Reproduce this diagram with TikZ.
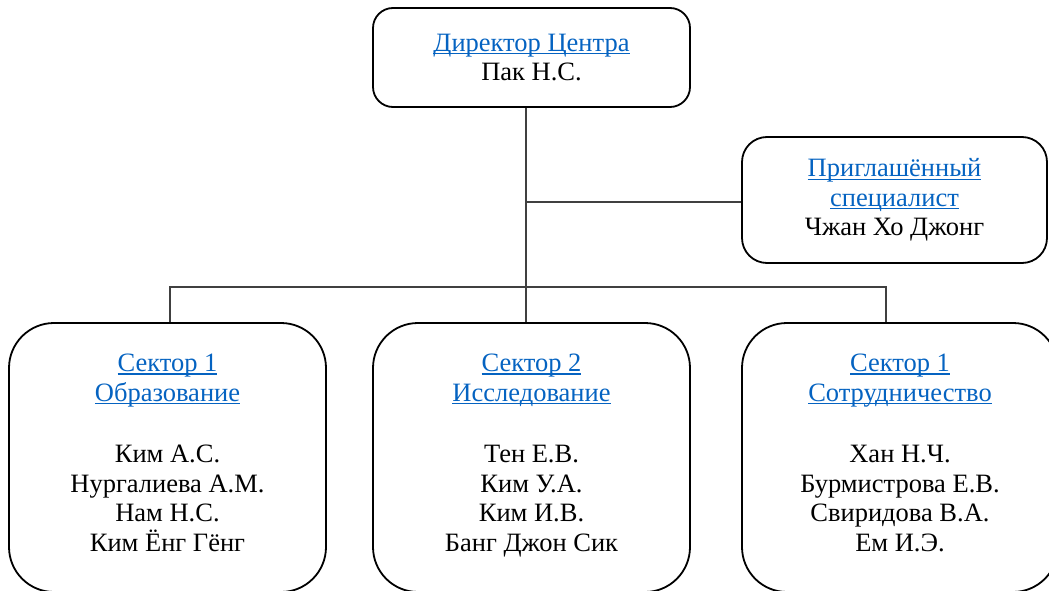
\documentclass[tikz,border=0pt]{standalone}
\usepackage{fontspec}
\setmainfont{Liberation Serif}
\newfontfamily\timesf{Liberation Serif}
\definecolor{linkblue}{RGB}{5,99,193}
\newcommand\lnk[1]{{\color{linkblue}\setbox0\hbox{#1}\rlap{\rule[-3pt]{\wd0}{1.2pt}}\box0}}
\newcommand\lift{\rule[-10pt]{0pt}{10pt}}

\begin{document}
\begin{tikzpicture}[x=1pt,y=-1pt,font=\timesf\fontsize{26.5}{29.5}\selectfont,
  box/.style={draw,line width=1.8pt,rounded corners=#1,align=center,inner sep=0pt},
  wire/.style={draw=black!75,line width=1.4pt}]
\useasboundingbox (0,0) rectangle (1049,591);
\node[box=20pt,minimum width=317pt,minimum height=99pt] (dir) at (531.5,57.5) {\lnk{Директор Центра}\\Пак Н.С.};
\node[box=25pt,minimum width=305pt,minimum height=126pt] (guest) at (894.5,200) {\lnk{Приглашённый}\\\lnk{специалист}\\Чжан Хо Джонг};
\node[box=45pt,minimum width=317pt,minimum height=269pt] (s1) at (167.5,457.5) {\lnk{Сектор 1}\\\lnk{Образование}\\[32pt]Ким А.С.\\Нургалиева А.М.\\Нам Н.С.\\Ким Ёнг Гёнг\lift};
\node[box=45pt,minimum width=317pt,minimum height=269pt] (s2) at (531.5,457.5) {\lnk{Сектор 2}\\\lnk{Исследование}\\[32pt]Тен Е.В.\\Ким У.А.\\Ким И.В.\\Банг Джон Сик\lift};
\node[box=45pt,minimum width=316pt,minimum height=269pt] (s3) at (900,457.5) {\lnk{Сектор 1}\\\lnk{Сотрудничество}\\[32pt]Хан Н.Ч.\\Бурмистрова Е.В.\\Свиридова В.А.\\Ем И.Э.\lift};
\coordinate (tap) at (526,202);
\coordinate (busL) at (170,287);\coordinate (busR) at (886,287);
\draw[wire] ([xshift=-5.5pt]dir.south) -- ([xshift=-5.5pt]s2.north);
\draw[wire] (tap) -- (guest.west |- tap);
\draw[wire] (s1.north -| busL) -- (busL) -- (busR) -- (s3.north -| busR);
\end{tikzpicture}
\end{document}
